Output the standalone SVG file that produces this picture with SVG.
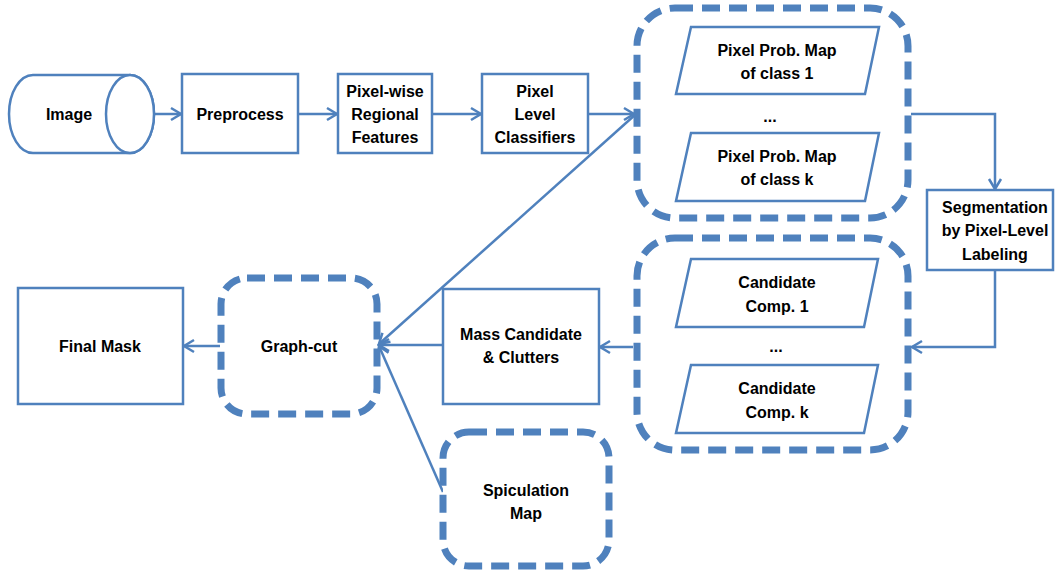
<svg xmlns="http://www.w3.org/2000/svg" width="1056" height="573" viewBox="0 0 1056 573">
<defs>
<marker id="arr" markerUnits="userSpaceOnUse" markerWidth="14" markerHeight="16" refX="11" refY="7" orient="auto" viewBox="0 0 14 14">
<path d="M1,1 L11,7 L1,13" fill="none" stroke="#4F81BD" stroke-width="2.5"/>
</marker>
</defs>
<style>
.s{fill:#fff;stroke:#4F81BD;stroke-width:2.5}
.d{fill:#fff;stroke:#4F81BD;stroke-width:7;stroke-dasharray:18 9}
.c{fill:none;stroke:#4F81BD;stroke-width:2.5;marker-end:url(#arr)}
text{font-family:"Liberation Sans",Arial,sans-serif;font-weight:bold;font-size:16px;fill:#000;text-anchor:middle;dominant-baseline:central}
</style>
<rect width="1056" height="573" fill="#fff"/>
<g id="connectors">
<line class="c" x1="155" y1="114" x2="181" y2="114"/>
<line class="c" x1="298" y1="114" x2="337" y2="114"/>
<line class="c" x1="432" y1="114" x2="481" y2="114"/>
<line class="c" x1="588" y1="114" x2="634" y2="114"/>
<polyline class="c" points="911,114 995,114 995,189"/>
<polyline class="c" points="995,270 995,347 912,347"/>
<line class="c" x1="633" y1="347" x2="600" y2="347"/>
<line class="c" x1="443" y1="345" x2="379" y2="345"/>
<line class="c" x1="636" y1="114" x2="379" y2="344"/>
<line class="c" x1="443" y1="492" x2="379" y2="346"/>
<line class="c" x1="220" y1="346" x2="184" y2="346"/>
</g>
<g id="image">
<path class="s" d="M33,75 H130 A24,39 0 0 1 130,153 H33 A24,39 0 0 1 33,75 Z"/>
<ellipse class="s" cx="130" cy="114" rx="24" ry="39"/>
<text x="69" y="114">Image</text>
</g>
<g id="preprocess">
<rect class="s" x="182" y="74" width="116" height="79"/>
<text x="240" y="114">Preprocess</text>
</g>
<g id="features">
<rect class="s" x="338" y="74" width="94" height="79"/>
<text x="385" y="91">Pixel-wise</text>
<text x="385" y="114">Regional</text>
<text x="385" y="137">Features</text>
</g>
<g id="classifiers">
<rect class="s" x="482" y="74" width="106" height="79"/>
<text x="535" y="91">Pixel</text>
<text x="535" y="114">Level</text>
<text x="535" y="137">Classifiers</text>
</g>
<g id="probmaps">
<rect class="d" x="637" y="8" width="271" height="210" rx="38"/>
<polygon class="s" points="691,27 879,27 865,94 676,94"/>
<text x="777" y="50">Pixel Prob. Map</text>
<text x="777" y="73">of class 1</text>
<text x="770" y="116">...</text>
<polygon class="s" points="691,133 879,133 865,201 676,201"/>
<text x="777" y="156">Pixel Prob. Map</text>
<text x="777" y="179">of class k</text>
</g>
<g id="segmentation">
<rect class="s" x="927" y="190" width="126" height="80"/>
<text x="995" y="207">Segmentation</text>
<text x="995" y="230">by Pixel-Level</text>
<text x="995" y="254">Labeling</text>
</g>
<g id="candidates">
<rect class="d" x="637" y="238" width="271" height="212" rx="38"/>
<polygon class="s" points="691,259 878,259 864,327 676,327"/>
<text x="777" y="282">Candidate</text>
<text x="777" y="306">Comp. 1</text>
<text x="776" y="346">...</text>
<polygon class="s" points="691,365 878,365 864,433 676,433"/>
<text x="777" y="388">Candidate</text>
<text x="777" y="412">Comp. k</text>
</g>
<g id="masscandidate">
<rect class="s" x="443" y="289" width="156" height="115"/>
<text x="521" y="334">Mass Candidate</text>
<text x="521" y="357">&amp; Clutters</text>
</g>
<g id="graphcut">
<rect class="d" x="221" y="278" width="156" height="136" rx="26"/>
<text x="299" y="346">Graph-cut</text>
</g>
<g id="finalmask">
<rect class="s" x="18" y="288" width="165" height="116"/>
<text x="100" y="346">Final Mask</text>
</g>
<g id="spiculation">
<rect class="d" x="443" y="432" width="166" height="134" rx="26"/>
<text x="526" y="490">Spiculation</text>
<text x="526" y="513">Map</text>
</g>
</svg>
